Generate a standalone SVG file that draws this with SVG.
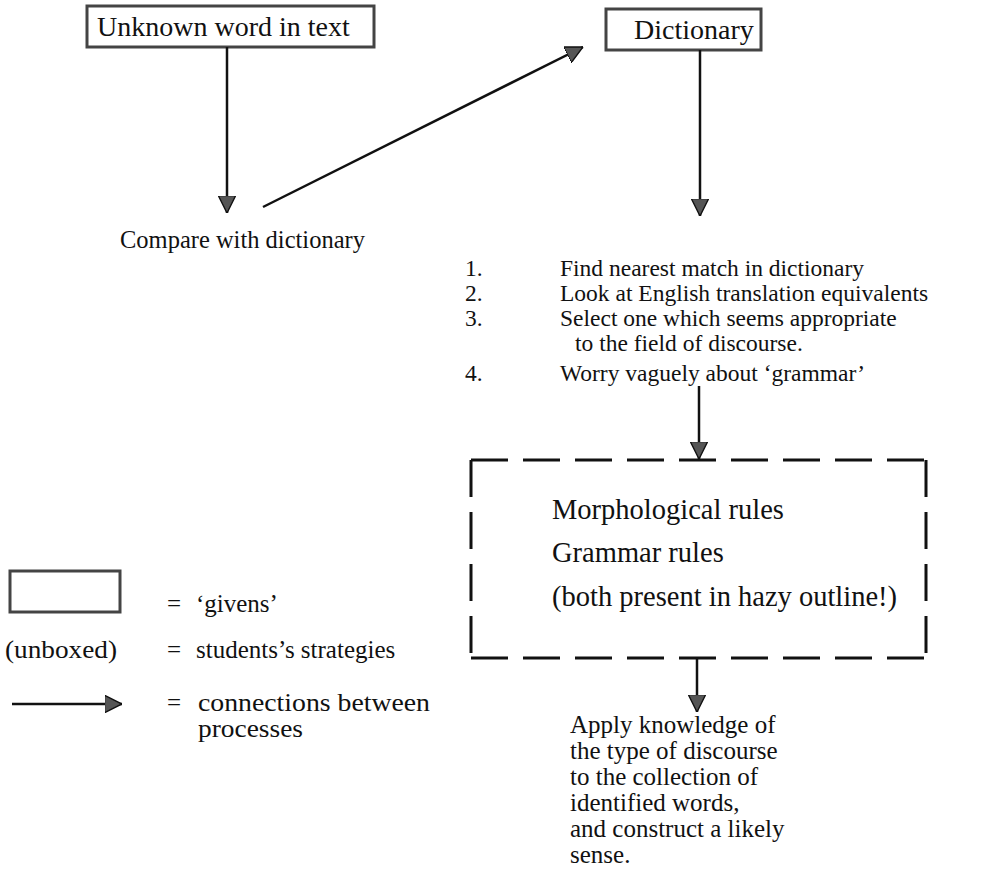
<svg xmlns="http://www.w3.org/2000/svg" width="1007" height="890" viewBox="0 0 1007 890">
<style>
text{font-family:"Liberation Serif","Times New Roman",serif;font-size:23.5px;fill:#111}
.big{font-size:28px}
.cmp{font-size:24.5px}
.rule{font-size:28.5px}
.app{font-size:25px}
.leg{font-size:25px}
.given{fill:#fff;stroke:#444;stroke-width:3}
.conn{stroke:#111;stroke-width:2.5;fill:none}
.dash{stroke:#111;stroke-width:3;fill:none;stroke-dasharray:37 15}
</style>
<defs>
<marker id="ah" viewBox="0 0 10 10" refX="10" refY="5" markerWidth="7" markerHeight="7" markerUnits="strokeWidth" orient="auto">
<path d="M0,0 L10,5 L0,10 z" fill="#555" stroke="#111" stroke-width="0.8"/>
</marker>
</defs>
<rect width="1007" height="890" fill="#fff"/>
<g id="unknown-word">
<rect class="given" x="87" y="6" width="287" height="41"/>
<text class="big" x="97" y="36">Unknown word in text</text>
</g>
<g id="dictionary">
<rect class="given" x="606" y="9" width="155" height="41"/>
<text class="big" x="634" y="39">Dictionary</text>
</g>
<g id="compare">
<text class="cmp" x="120" y="248">Compare with dictionary</text>
</g>
<g id="steps">
<text x="465" y="276">1.</text><text x="560" y="276">Find nearest match in dictionary</text>
<text x="465" y="301">2.</text><text x="560" y="301">Look at English translation equivalents</text>
<text x="465" y="326">3.</text><text x="560" y="326">Select one which seems appropriate</text>
<text x="575" y="351">to the field of discourse.</text>
<text x="465" y="381">4.</text><text x="560" y="381">Worry vaguely about ‘grammar’</text>
</g>
<g id="rules">
<path class="dash" d="M471,460 H926"/>
<path class="dash" d="M471,658 H926"/>
<path class="dash" d="M471,460 V658"/>
<path class="dash" d="M926,460 V658"/>
<text class="rule" x="552" y="519">Morphological rules</text>
<text class="rule" x="552" y="562">Grammar rules</text>
<text class="rule" x="552" y="606">(both present in hazy outline!)</text>
</g>
<g id="apply">
<text class="app" x="570" y="733">Apply knowledge of</text>
<text class="app" x="570" y="759">the type of discourse</text>
<text class="app" x="570" y="785">to the collection of</text>
<text class="app" x="570" y="811">identified words,</text>
<text class="app" x="570" y="837">and construct a likely</text>
<text class="app" x="570" y="863">sense.</text>
</g>
<g id="legend">
<rect class="given" x="10" y="571" width="110" height="41" stroke-width="2.5"/>
<text class="leg" x="167" y="612">=</text><text class="leg" x="196" y="612">‘givens’</text>
<text class="leg" x="5" y="658" textLength="112" lengthAdjust="spacingAndGlyphs">(unboxed)</text>
<text class="leg" x="167" y="658">=</text><text class="leg" x="196" y="658">students’s strategies</text>
<line class="conn" x1="12" y1="704" x2="122" y2="704" marker-end="url(#ah)"/>
<text class="leg" x="167" y="711">=</text><text class="leg" x="198" y="711" textLength="232" lengthAdjust="spacingAndGlyphs">connections between</text>
<text class="leg" x="198" y="737" textLength="105" lengthAdjust="spacingAndGlyphs">processes</text>
</g>
<g id="connectors">
<line class="conn" x1="227" y1="47" x2="227" y2="213" marker-end="url(#ah)"/>
<line class="conn" x1="263" y1="207" x2="583" y2="47" marker-end="url(#ah)"/>
<line class="conn" x1="700" y1="50" x2="700" y2="216" marker-end="url(#ah)"/>
<line class="conn" x1="699" y1="386" x2="699" y2="459" marker-end="url(#ah)"/>
<line class="conn" x1="697" y1="658" x2="697" y2="712" marker-end="url(#ah)"/>
</g>
</svg>
